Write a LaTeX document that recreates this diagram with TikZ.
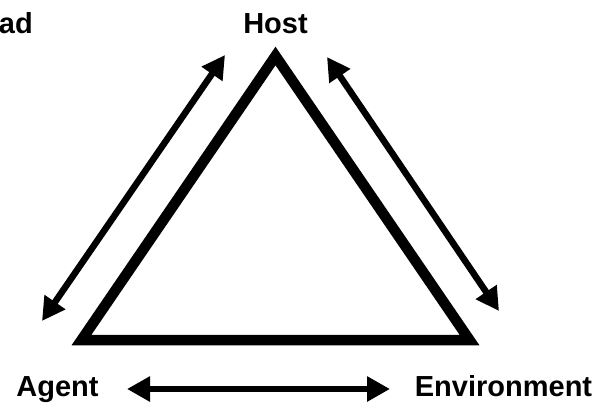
\documentclass[tikz,border=0pt]{standalone}
\usepackage{fontspec}
\setmainfont{Liberation Sans}
\usetikzlibrary{arrows.meta}

\begin{document}
\begin{tikzpicture}[x=1pt, y=-1pt,
    label/.style={font=\fontsize{29}{35}\selectfont\bfseries, inner sep=0pt, anchor=base},
    link/.style={line width=6.5pt, {Triangle[length=23pt,width=24pt]}-{Triangle[length=23pt,width=24pt]}}]

  % Fix the size of the picture
  \useasboundingbox (0,0) rectangle (605,410);

  % Define the corners of the triangle
  \coordinate (A) at (81.5,340);
  \coordinate (E) at (469.5,340);
  \coordinate (H) at (275.5,56);

  % Draw the triangle
  \draw[line width=10.5pt, line join=miter] (A) -- (H) -- (E) -- cycle;

  % Add the labels
  \node[label] (host) at (275.5,33) {Host};
  \node[label] (agent) at (57.5,396) {Agent};
  \node[label] (env) at (503.5,396) {Environment};
  \node[label, anchor=base east] (cut) at (33,33) {ad};

  % Ends of the arrows
  \coordinate (l1) at (42,321);
  \coordinate (l2) at (225,55);
  \coordinate (r1) at (327,57);
  \coordinate (r2) at (499,311);
  \coordinate (b1) at (127,389);
  \coordinate (b2) at (390,389);

  % Draw the arrows
  \draw[link] (l1) -- (l2);
  \draw[link] (r1) -- (r2);
  \draw[link] (b1) -- (b2);

\end{tikzpicture}
\end{document}
